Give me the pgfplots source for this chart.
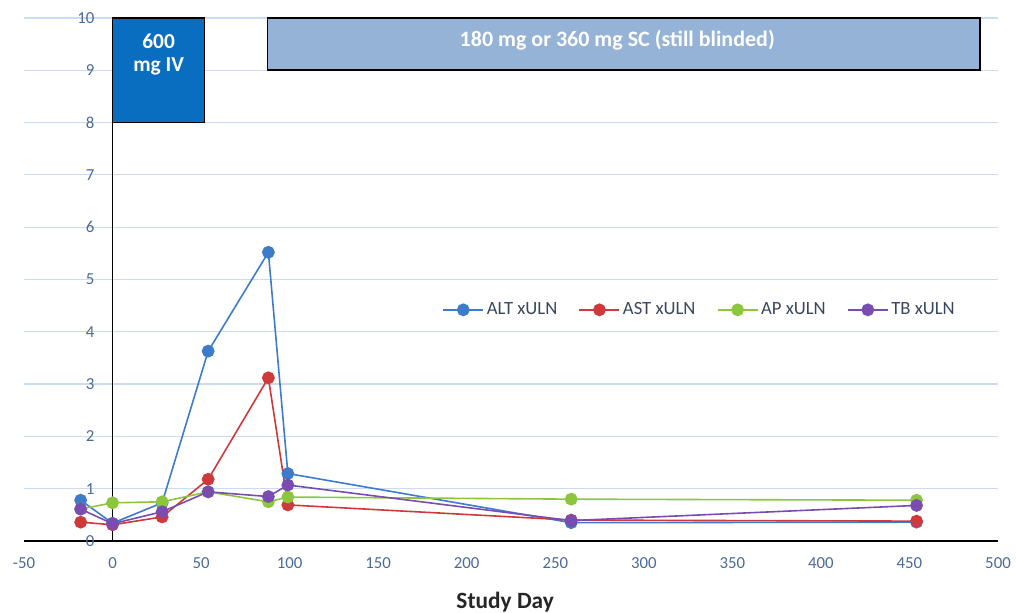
\documentclass[border=0pt]{standalone}
\usepackage{fontspec}
\setmainfont{Carlito}
\usepackage{pgfplots}
\pgfplotsset{compat=1.18}

\definecolor{altc}{HTML}{3D7BCB}
\definecolor{astc}{HTML}{D0393B}
\definecolor{apc}{HTML}{8CC63F}
\definecolor{tbc}{HTML}{7A4CAF}
\definecolor{gridc}{HTML}{CCDCF0}
\definecolor{tickc}{HTML}{4A6A98}
\definecolor{legc}{HTML}{3A4660}
\definecolor{ivbox}{HTML}{0A6EC0}
\definecolor{scbox}{HTML}{95B3D7}

\begin{document}
\begin{tikzpicture}
\path[use as bounding box] (-18pt,-54pt) rectangle (744pt,405.75pt);
\begin{axis}[
  at={(0pt,0pt)}, anchor=south west,
  width=730.5pt, height=392.25pt, scale only axis,
  xmin=-50, xmax=500, ymin=0, ymax=10,
  axis x line=bottom, axis y line=left,
  x axis line style={-, line width=1.3pt, black},
  y axis line style={draw=none},
  xtick={-50,0,...,500}, ytick={0,1,...,10},
  ymajorgrids,
  grid style={line width=0.9pt, gridc},
  major tick length=0pt,
  /pgf/number format/assume math mode=true,
  tick label style={font=\fontsize{12.6}{14}\selectfont, text=tickc},
  xticklabel style={anchor=center, yshift=-16.5pt},
  % y labels sit beside the vertical axis drawn at day 0
  yticklabel style={anchor=east, xshift=56.4pt},
  clip=false,
  legend columns=4,
  legend style={draw=none, fill=none, at={(0.694,0.442)}, anchor=center,
    font=\fontsize{14}{16}\selectfont, text=legc,
    /tikz/every even column/.append style={column sep=14pt}},
  legend image code/.code={%
    \draw[mark repeat=2, mark phase=2] plot coordinates {(0pt,0pt) (15pt,0pt) (30pt,0pt)};},
  every axis plot/.append style={line width=1.2pt, mark=*, mark size=4.2pt},
]
% vertical axis at day 0
\draw[line width=1.3pt, black] (axis cs:0,0) -- (axis cs:0,10);
% blinded-period annotation boxes
\draw[line width=1.2pt, fill=ivbox] (axis cs:0,8) rectangle (axis cs:52,10);
\node[text=white, font=\fontsize{16}{18}\selectfont\bfseries, align=center]
  at (axis cs:26,9.3) {600\\[-1pt]mg IV};
\draw[line width=1.2pt, fill=scbox] (axis cs:87.6,9) rectangle (axis cs:490,10);
\node[text=white, font=\fontsize{16.5}{18}\selectfont\bfseries]
  at (axis cs:285,9.58) {180 mg or 360 mg SC (still blinded)};

\addplot[color=altc, mark options={fill=altc}] coordinates {
  (-18,0.78) (0,0.34) (28,0.73) (54,3.63) (88,5.52) (99,1.29) (259,0.35) (454,0.36)};
\addlegendentry{ALT xULN}
\addplot[color=astc, mark options={fill=astc}] coordinates {
  (-18,0.36) (0,0.31) (28,0.46) (54,1.18) (88,3.12) (99,0.69) (259,0.40) (454,0.38)};
\addlegendentry{AST xULN}
\addplot[color=apc, mark options={fill=apc}] coordinates {
  (-18,0.61) (0,0.73) (28,0.75) (54,0.94) (88,0.75) (99,0.84) (259,0.80) (454,0.78)};
\addlegendentry{AP xULN}
\addplot[color=tbc, mark options={fill=tbc}] coordinates {
  (-18,0.61) (0,0.33) (28,0.56) (54,0.94) (88,0.85) (99,1.07) (259,0.39) (454,0.68)};
\addlegendentry{TB xULN}

\node[font=\fontsize{17.5}{20}\selectfont\bfseries, text=black!85]
  at (axis description cs:0.494,0) [yshift=-46pt] {Study Day};
\end{axis}
\end{tikzpicture}
\end{document}
